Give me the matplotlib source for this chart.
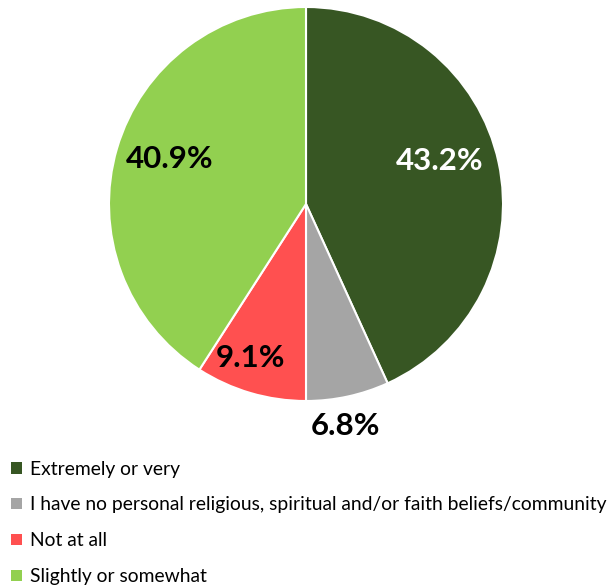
import matplotlib
matplotlib.use('Agg')
import matplotlib.pyplot as plt

# Importance of religion / faith - share of respondents
categories = ['Extremely or very',
              'I have no personal religious, spiritual and/or faith beliefs/community',
              'Not at all',
              'Slightly or somewhat']
shares = [43.2, 6.8, 9.1, 40.9]
colors = ['#375623', '#A5A5A5', '#FF5050', '#92D050']

# label placement in pie units (radius = 1) and label colours
label_pos = [(0.68, 0.22), (0.20, -1.125), (-0.28, -0.78), (-0.69, 0.23)]
label_colors = ['white', 'black', 'black', 'black']

plt.rcParams['font.family'] = ['Lato', 'DejaVu Sans']

fig = plt.figure(figsize=(6.12, 5.88), dpi=100)
ax = fig.add_axes([109 / 612, 1 - 401 / 588, 394 / 612, 394 / 588])

wedges, _ = ax.pie(shares, colors=colors, startangle=90, counterclock=False,
                   wedgeprops=dict(edgecolor='white', linewidth=1.5))
ax.set_xlim(-1, 1)
ax.set_ylim(-1, 1)
ax.set_aspect('equal')

for val, (x, y), c in zip(shares, label_pos, label_colors):
    ax.text(x, y, f'{val:.1f}%', ha='center', va='center', color=c,
            fontsize=22.5, fontweight='bold', clip_on=False)

leg = fig.legend(wedges, categories, loc='upper left',
                 bbox_to_anchor=(-0.004, 1 - 447 / 588), frameon=False,
                 handlelength=0.55, handleheight=0.55, handletextpad=0.45,
                 labelspacing=0.98, fontsize=13.9, borderaxespad=0.3)
for h in leg.legend_handles:
    h.set_edgecolor('none')

fig.savefig('out.png', dpi=100)
plt.close(fig)
